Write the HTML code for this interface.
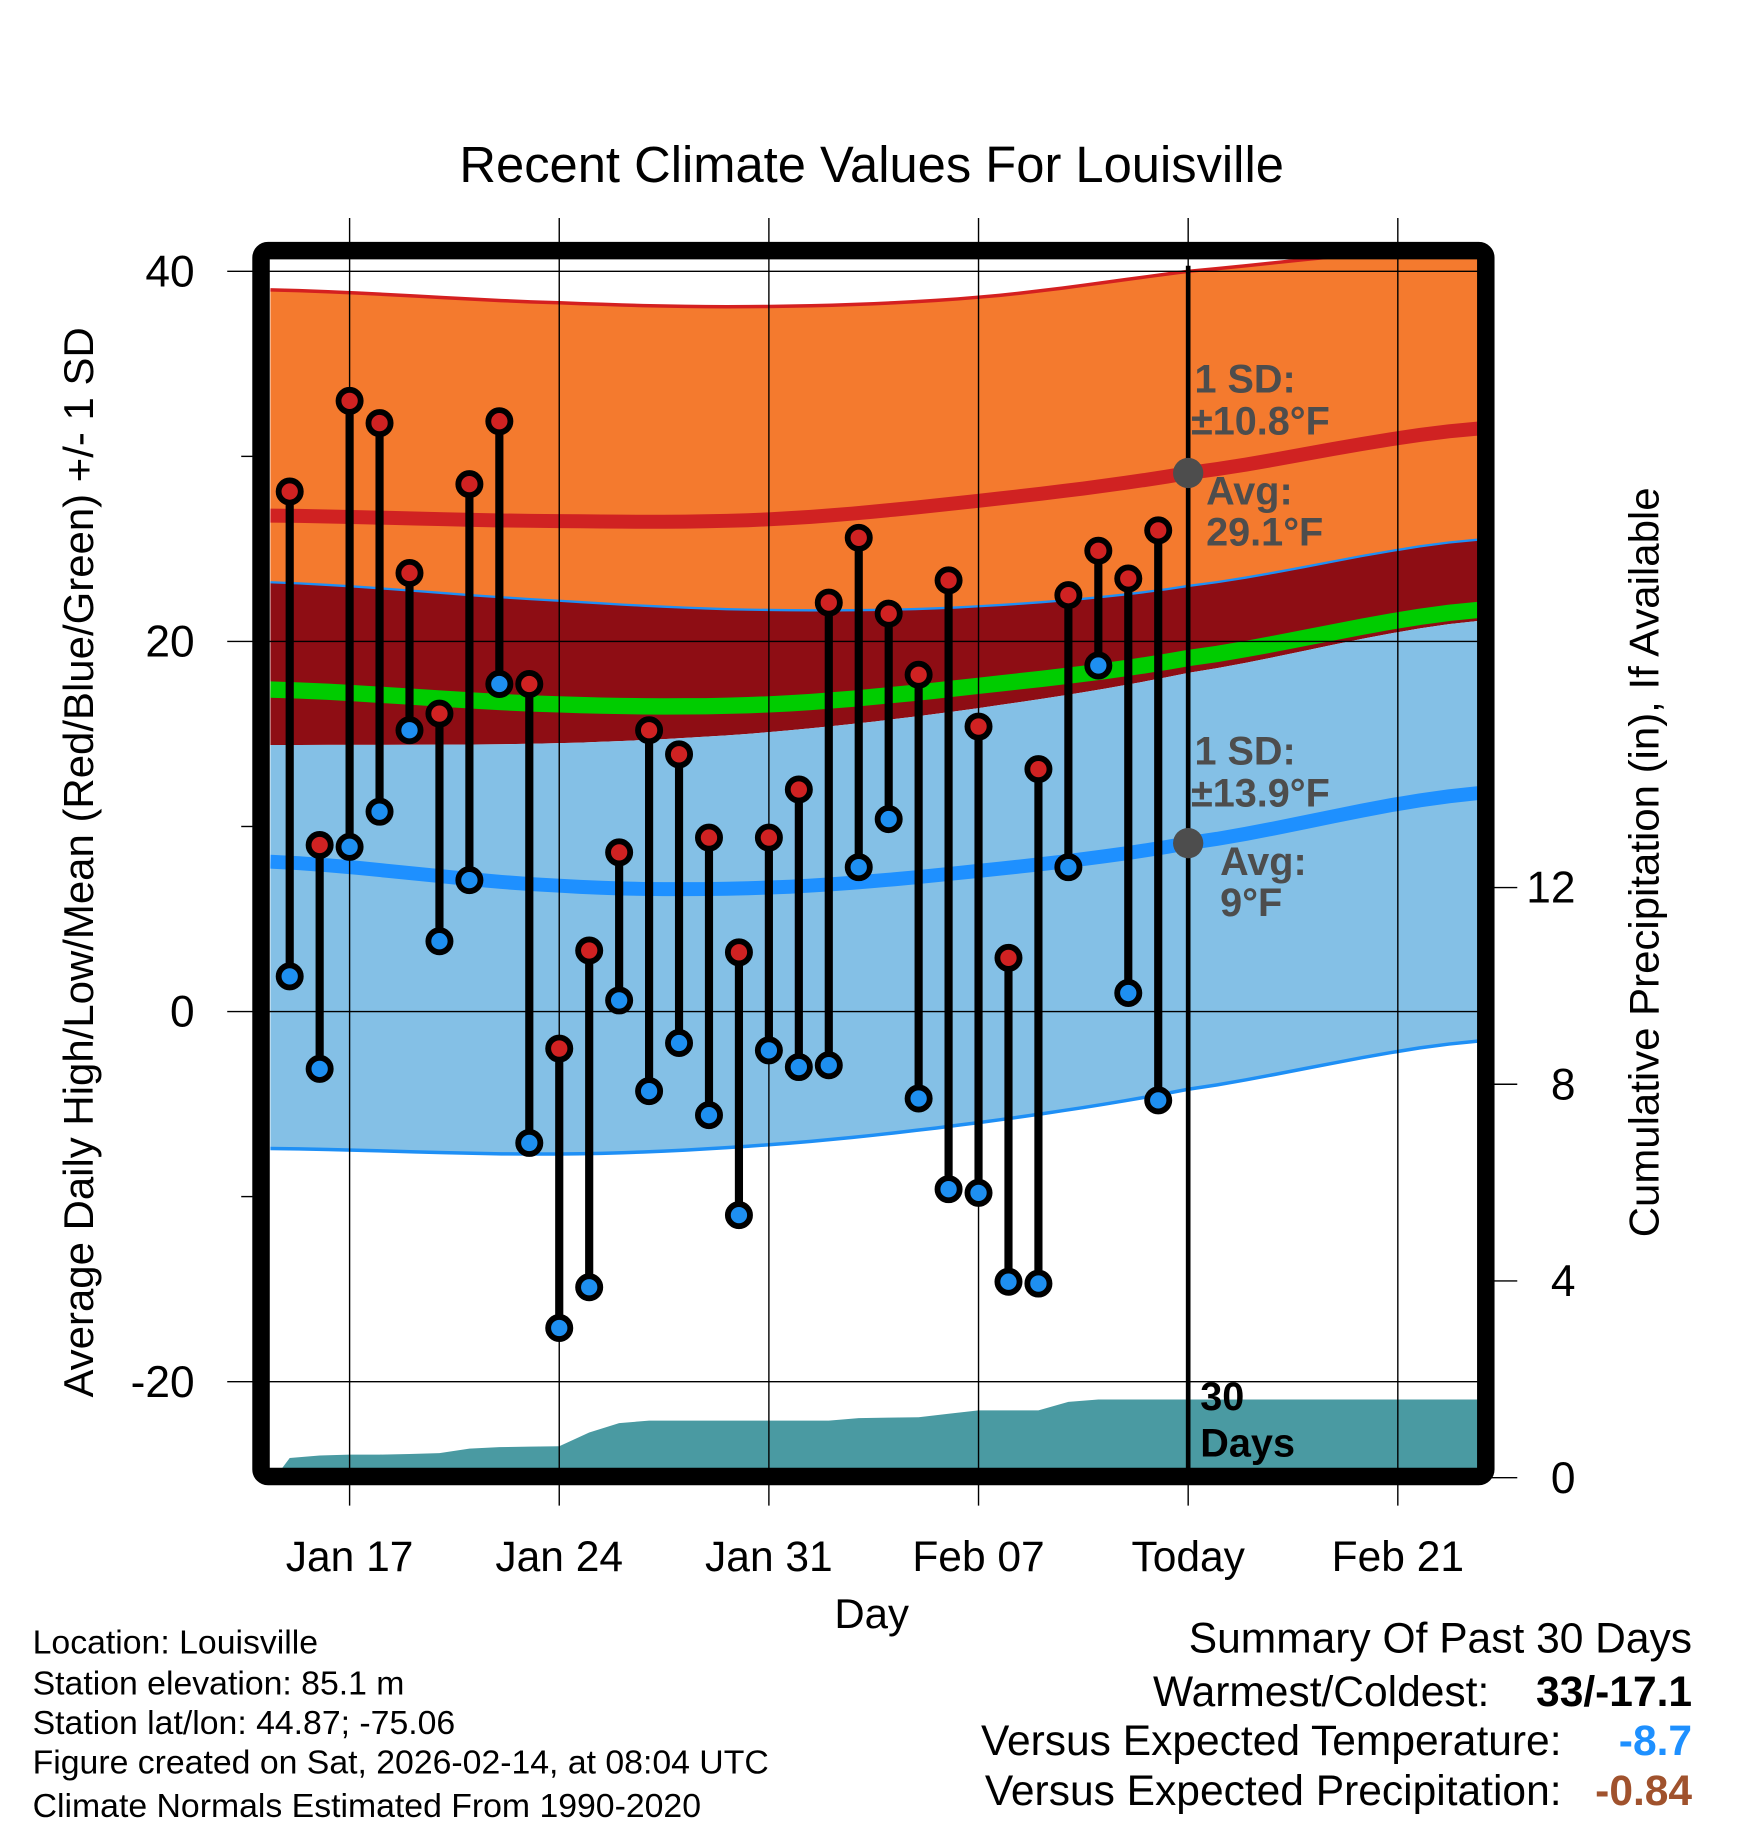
<!DOCTYPE html>
<html><head><meta charset="utf-8"><style>
html,body{margin:0;padding:0;background:#fff}
svg{display:block}
text{font-family:"Liberation Sans",sans-serif}
</style></head><body>
<svg id="chart" width="1748" height="1828" viewBox="0 0 1500 1568.6" xmlns="http://www.w3.org/2000/svg">
<defs><clipPath id="pc"><rect x="232" y="222" width="1036" height="1038"/></clipPath></defs>
<g id="fills" clip-path="url(#pc)"></g>
<g id="grid"></g>
<g id="marks"></g>
<g id="frame"></g>
<g id="labels"></g>
</svg>
<script>
const days = [15,16,17,18,19,20,21,22,23,24,25,26,27,28,29,30,31,32,33,34,35,36,37,38,39,40,41,42,43,44];
const highs = [28.1,9.0,33.0,31.8,23.7,16.1,28.5,31.9,17.7,-2.0,3.3,8.6,15.2,13.9,9.4,3.2,9.4,12.0,22.1,25.6,21.5,18.2,23.3,15.4,2.9,13.1,22.5,24.9,23.4,26.0];
const lows = [1.9,-3.1,8.9,10.8,15.2,3.8,7.1,17.7,-7.1,-17.1,-14.9,0.6,-4.3,-1.7,-5.6,-11.0,-2.1,-3.0,-2.9,7.8,10.4,-4.7,-9.6,-9.8,-14.6,-14.7,7.8,18.7,1.0,-4.8];
const precip = [0.40,0.45,0.47,0.47,0.48,0.50,0.59,0.62,0.63,0.64,0.92,1.11,1.16,1.16,1.16,1.16,1.16,1.16,1.16,1.21,1.22,1.23,1.30,1.37,1.37,1.37,1.54,1.59,1.59,1.59];
const normDays = [14.35,24,31,38,45,54.67];
const highUpper = [39.0,38.3,38.1,38.6,40.0,41.4];
const highAvg = [26.8,26.5,26.6,27.6,29.1,31.5];
const highLower = [23.2,22.2,21.7,21.9,23.0,25.5];
const meanAvg = [17.4,16.6,16.6,17.6,19.1,21.7];
const lowUpper = [14.4,14.5,15.1,16.4,18.3,21.1];
const lowAvg = [8.1,6.8,6.7,7.6,9.1,11.8];
const lowLower = [-7.4,-7.7,-7.2,-6.0,-4.2,-1.6];
const yTicks = [40,20,0,-20];
const yMinor = [30,10,-10];
const pTicks = [0,4,8,12];
const xTickDays = [17,24,31,38,45,52];
const xTickLabels = ["Jan 17","Jan 24","Jan 31","Feb 07","Today","Feb 21"];

const NS="http://www.w3.org/2000/svg";
const X=d=>300+(d-17)*25.7;
const Y=v=>868-15.88*v;
const P=p=>1268-42.2*p;
function mk(parent,tag,attrs,txt){const e=document.createElementNS(NS,tag);for(const k in attrs)e.setAttribute(k,attrs[k]);if(txt!==undefined)e.textContent=txt;document.getElementById(parent).appendChild(e);return e;}
function pts(vals){const a=[];for(let i=0;i<normDays.length-1;i++){for(let s=0;s<10;s++){const t=s/10;const p0=vals[Math.max(i-1,0)],p1=vals[i],p2=vals[i+1],p3=vals[Math.min(i+2,vals.length-1)];const d=normDays[i]+(normDays[i+1]-normDays[i])*t;const v=0.5*((2*p1)+(-p0+p2)*t+(2*p0-5*p1+4*p2-p3)*t*t+(-p0+3*p1-3*p2+p3)*t*t*t);a.push([X(d),Y(v)]);}}a.push([X(normDays[normDays.length-1]),Y(vals[vals.length-1])]);return a;}
function line(a){return a.map((p,i)=>(i?'L':'M')+p[0].toFixed(1)+' '+p[1].toFixed(1)).join(' ');}
function band(up,lo){const a=pts(up),b=pts(lo).reverse();return line(a)+' '+b.map(p=>'L'+p[0].toFixed(1)+' '+p[1].toFixed(1)).join(' ')+' Z';}

let e;
e=mk('fills','path',{d:band(highUpper,highLower),fill:'#f47a2e'});

e=mk('fills','path',{d:band(highLower,lowUpper),fill:'#8e0d14'});

e=mk('fills','path',{d:band(lowUpper,lowLower),fill:'#84c0e6'});

e=mk('fills','path',{d:line(pts(highUpper)),fill:'none',stroke:'#d42020','stroke-width':3});

e=mk('fills','path',{d:line(pts(highLower)),fill:'none',stroke:'#1e8ff5','stroke-width':2});

e=mk('fills','path',{d:line(pts(lowLower)),fill:'none',stroke:'#1e8ff5','stroke-width':3});

e=mk('fills','path',{d:line(pts(meanAvg)),fill:'none',stroke:'#00cc00','stroke-width':14});

e=mk('fills','path',{d:line(pts(highAvg)),fill:'none',stroke:'#d02222','stroke-width':12});

e=mk('fills','path',{d:line(pts(lowAvg)),fill:'none',stroke:'#1e90ff','stroke-width':12});

let pd='M236 1268 L'+X(days[0]).toFixed(1)+' '+P(precip[0]).toFixed(1);
for(let i=1;i<days.length;i++)pd+=' L'+X(days[i]).toFixed(1)+' '+P(precip[i]).toFixed(1);
pd+=' L1268 '+P(precip[precip.length-1]).toFixed(1)+' L1268 1268 Z';
e=mk('fills','path',{d:pd,fill:'#4a9aa2'});


xTickDays.forEach((d,i)=>{e=mk('grid','line',{x1:X(d),x2:X(d),y1:187,y2:1292,stroke:'#000','stroke-width':1.2});
});
yTicks.forEach(v=>{e=mk('grid','line',{x1:195,x2:1268,y1:Y(v),y2:Y(v),stroke:'#000','stroke-width':1.2});
});
yMinor.forEach(v=>{e=mk('grid','line',{x1:207,x2:220,y1:Y(v),y2:Y(v),stroke:'#000','stroke-width':1.2});
});
pTicks.forEach(p=>{e=mk('grid','line',{x1:1280,x2:1302,y1:P(p),y2:P(p),stroke:'#000','stroke-width':1.2});
});

e=mk('marks','line',{x1:X(45),x2:X(45),y1:228,y2:1260,stroke:'#000','stroke-width':4});

e=mk('marks','circle',{cx:X(45),cy:Y(highAvg[4]),r:13,fill:'#4d4d4d'});

e=mk('marks','circle',{cx:X(45),cy:Y(lowAvg[4]),r:13,fill:'#4d4d4d'});


days.forEach((d,i)=>{
 e=mk('marks','line',{x1:X(d),x2:X(d),y1:Y(highs[i]),y2:Y(lows[i]),stroke:'#000','stroke-width':7});
 
 e=mk('marks','circle',{cx:X(d),cy:Y(highs[i]),r:9.5,fill:'#d02222',stroke:'#000','stroke-width':5});
 
 e=mk('marks','circle',{cx:X(d),cy:Y(lows[i]),r:9.5,fill:'#1e8ff0',stroke:'#000','stroke-width':5});
 
});

e=mk('frame','rect',{x:224,y:215,width:1051,height:1052,rx:6,fill:'none',stroke:'#000','stroke-width':15});


function T(name,x,y,s,attrs){const a=Object.assign({x:x,y:y},attrs||{});const t=mk('labels','text',a,s);return t;}
T('chart-title',748,156,'Recent Climate Values For Louisville',{'font-size':43.5,'text-anchor':'middle'});
yTicks.forEach(v=>T('y-tick-label',167,Y(v)+13,String(v),{'font-size':38,'text-anchor':'end'}));
pTicks.forEach(p=>T('precip-tick-label',1352,P(p)+13,String(p),{'font-size':38,'text-anchor':'end'}));
xTickDays.forEach((d,i)=>T('x-tick-label',X(d),1348,xTickLabels[i],{'font-size':36.5,'text-anchor':'middle'}));
T('x-axis-title',748,1397,'Day',{'font-size':36,'text-anchor':'middle'});
T('y-axis-title',0,0,'Average Daily High/Low/Mean (Red/Blue/Green) +/- 1 SD',{'font-size':36,'text-anchor':'middle',transform:'translate(80,740) rotate(-90)'});
T('precip-axis-title',0,0,'Cumulative Precipitation (in), If Available',{'font-size':36,'text-anchor':'middle',transform:'translate(1423,740) rotate(-90)'});
const g={fill:'#4d4d4d','font-size':34,'font-weight':'bold'};
T('high-sd-label',1025,337,'1 SD:',g);
T('high-sd-value',1022,373,'±10.8°F',g);
T('high-avg-label',1035,433,'Avg:',g);
T('high-avg-value',1035,468,'29.1°F',g);
T('low-sd-label',1025,656,'1 SD:',g);
T('low-sd-value',1022,692,'±13.9°F',g);
T('low-avg-label',1047,751,'Avg:',g);
T('low-avg-value',1047,786,'9°F',g);
T('days-label-30',1030,1210,'30',{'font-size':34,'font-weight':'bold'});
T('days-label-days',1030,1250,'Days',{'font-size':34,'font-weight':'bold'});
const f={'font-size':29};
T('footer-location',28,1419,'Location: Louisville',f);
T('footer-elevation',28,1454,'Station elevation: 85.1 m',f);
T('footer-latlon',28,1488,'Station lat/lon: 44.87; -75.06',f);
T('footer-created',28,1522,'Figure created on Sat, 2026-02-14, at 08:04 UTC',f);
T('footer-normals',28,1559,'Climate Normals Estimated From 1990-2020',f);
T('summary-title',1452,1418,'Summary Of Past 30 Days',{'font-size':36.5,'text-anchor':'end'});
T('warmest-coldest-label',1278,1464,'Warmest/Coldest:',{'font-size':36.5,'text-anchor':'end'});
T('warmest-coldest-value',1452,1464,'33/-17.1',{'font-size':36.5,'text-anchor':'end','font-weight':'bold'});
T('temp-anomaly-label',1340,1506,'Versus Expected Temperature:',{'font-size':36.5,'text-anchor':'end'});
T('temp-anomaly-value',1452,1506,'-8.7',{'font-size':36.5,'text-anchor':'end','font-weight':'bold',fill:'#1e90ff'});
T('precip-anomaly-label',1340,1549,'Versus Expected Precipitation:',{'font-size':36.5,'text-anchor':'end'});
T('precip-anomaly-value',1452,1549,'-0.84',{'font-size':36.5,'text-anchor':'end','font-weight':'bold',fill:'#a0522d'});
</script>
</body></html>
